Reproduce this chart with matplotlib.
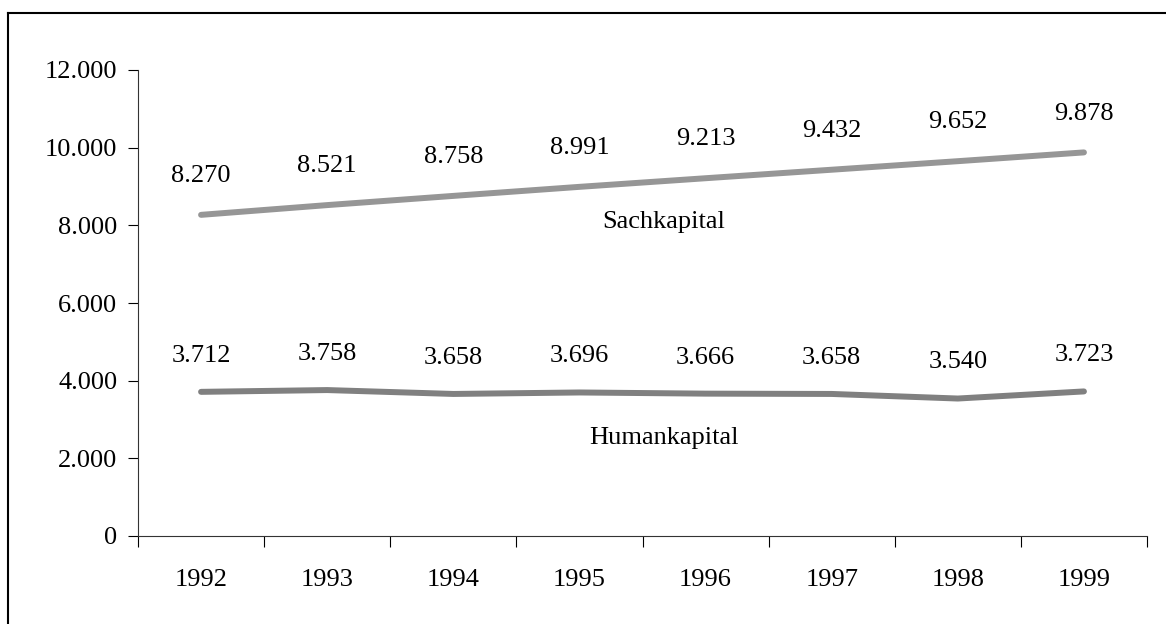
import numpy as np
import matplotlib.pyplot as plt
from matplotlib.lines import Line2D

years = ["1992", "1993", "1994", "1995", "1996", "1997", "1998", "1999"]
sachkapital = [8270, 8521, 8758, 8991, 9213, 9432, 9652, 9878]
humankapital = [3712, 3758, 3658, 3696, 3666, 3658, 3540, 3723]

plt.rcParams['font.family'] = ['Liberation Serif', 'DejaVu Serif']
plt.rcParams['font.size'] = 19

fig = plt.figure(figsize=(11.66, 6.24), dpi=100)
ax = fig.add_axes([138/1166, 1 - 536/624, (1147-138)/1166, (536-70)/624])

x = np.arange(len(years)) + 0.5
ax.plot(x, sachkapital, color="#969696", lw=4.3, solid_capstyle="round")
ax.plot(x, humankapital, color="#808080", lw=4.3, solid_capstyle="round")

def fmt(v):
    return "{:,}".format(int(v)).replace(",", ".")

for xi, v in zip(x, sachkapital):
    ax.annotate(fmt(v), (xi, v), xytext=(0, 28), textcoords="offset points",
                ha="center", va="center")
for xi, v in zip(x, humankapital):
    ax.annotate(fmt(v), (xi, v), xytext=(0, 26), textcoords="offset points",
                ha="center", va="center")

# series names placed in the plot
ax.text(4.17, 8086, "Sachkapital", ha="center", va="center")
ax.text(4.17, 2524, "Humankapital", ha="center", va="center")

ax.set_xlim(0, len(years))
ax.set_ylim(0, 12000)
ax.set_xticks(np.arange(len(years) + 1))
ax.set_xticklabels([])
ax.set_xticks(x, minor=True)
ax.set_xticklabels(years, minor=True)
ax.tick_params(axis="x", which="minor", length=0, pad=24)
ax.tick_params(axis="x", which="major", length=8, direction="out")
ax.set_yticks(np.arange(0, 12001, 2000))
ax.set_yticklabels([fmt(v) for v in np.arange(0, 12001, 2000)])
ax.tick_params(axis="y", length=7, direction="out", pad=8)
for s in ["top", "right"]:
    ax.spines[s].set_visible(False)
for s in ["left", "bottom"]:
    ax.spines[s].set_color("#333333")

# outer chart border (left and top visible)
fig.add_artist(Line2D([8/1166, 8/1166], [0, 1 - 13/624], color="black", lw=1.5, transform=fig.transFigure))
fig.add_artist(Line2D([8/1166, 1], [1 - 13/624, 1 - 13/624], color="black", lw=1.5, transform=fig.transFigure))

fig.savefig("out.png", dpi=100)
